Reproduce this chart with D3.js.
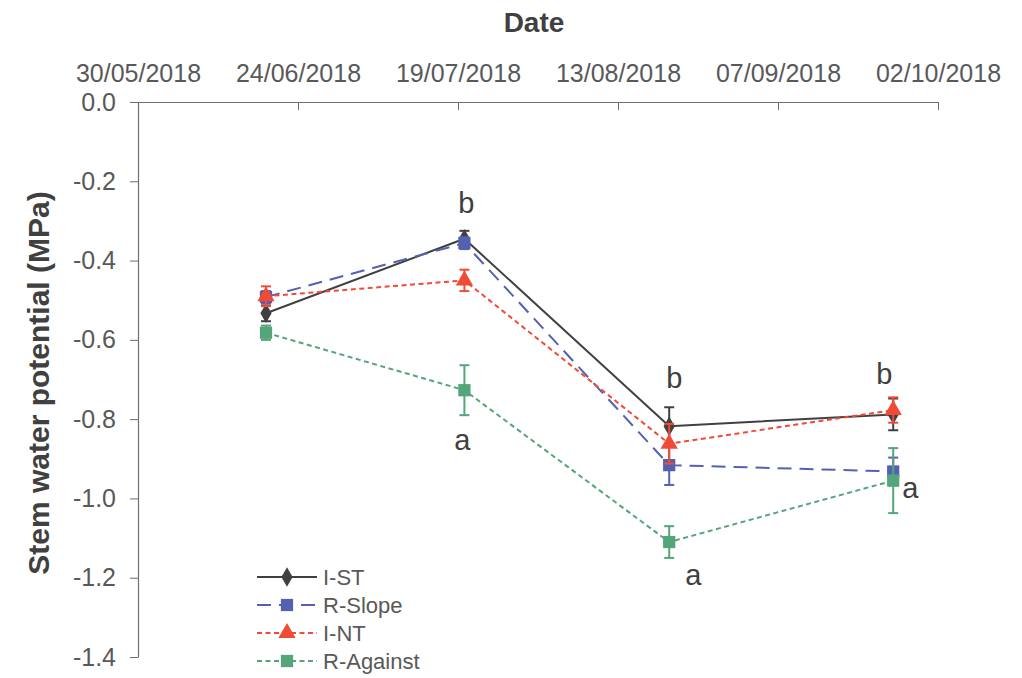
<!DOCTYPE html>
<html>
<head>
<meta charset="utf-8">
<script src="https://cdn.jsdelivr.net/npm/d3@7"></script>
<style>
  html, body { margin: 0; padding: 0; background: #ffffff; }
  svg { display: block; font-family: "Liberation Sans", Arial, sans-serif; }
</style>
</head>
<body>
<svg id="chart" width="1022" height="678"></svg>
<script>
// ---- data ----
const dates = ["19/06/2018", "20/07/2018", "21/08/2018", "25/09/2018"];
const seriesNames = ["I-ST", "R-Slope", "I-NT", "R-Against"];
const valuesIST = [-0.533, -0.345, -0.818, -0.788];
const valuesRSlope = [-0.492, -0.356, -0.916, -0.932];
const valuesINT = [-0.490, -0.450, -0.862, -0.777];
const valuesRAgainst = [-0.582, -0.727, -1.110, -0.955];
const errIST = [0.020, 0.020, 0.048, 0.040];
const errRSlope = [0.015, 0.015, 0.050, 0.035];
const errINT = [0.025, 0.027, 0.050, 0.032];
const errRAgainst = [0.018, 0.063, 0.040, 0.082];
const xTickLabels = ["30/05/2018", "24/06/2018", "19/07/2018", "13/08/2018", "07/09/2018", "02/10/2018"];
const yTickValues = [0.0, -0.2, -0.4, -0.6, -0.8, -1.0, -1.2, -1.4];
const letterDates = ["20/07/2018", "20/07/2018", "21/08/2018", "21/08/2018", "25/09/2018", "25/09/2018"];
const letterValues = [-0.255, -0.853, -0.696, -1.193, -0.686, -0.974];
const letterTexts = ["b", "a", "b", "a", "b", "a"];

// ---- setup ----
const parse = d3.timeParse("%d/%m/%Y");
const svg = d3.select("#chart");
const pLeft = 138, pRight = 938, pTop = 102, pBottom = 657;

const x = d3.scaleTime()
  .domain([parse(xTickLabels[0]), parse(xTickLabels[xTickLabels.length - 1])])
  .range([pLeft, pRight]);
const y = d3.scaleLinear().domain([0, -1.4]).range([pTop, pBottom]);

const axisColor = "#6e6e6e";
const textColor = "#595959";

// top x axis
const xAxis = d3.axisTop(x)
  .tickValues(xTickLabels.map(parse))
  .tickFormat(d3.timeFormat("%d/%m/%Y"))
  .tickSizeInner(-8).tickSizeOuter(0).tickPadding(20);
const gx = svg.append("g").attr("transform", `translate(0,${pTop})`).call(xAxis);
gx.select(".domain").attr("stroke", axisColor).attr("stroke-width", 1.2);
gx.selectAll(".tick line").attr("stroke", axisColor).attr("stroke-width", 1);
gx.selectAll(".tick text").attr("font-size", 25).attr("fill", textColor)
  .attr("font-family", "Liberation Sans, Arial, sans-serif");

// left y axis
const yAxis = d3.axisLeft(y)
  .tickValues(yTickValues)
  .tickFormat(d3.format(".1f"))
  .tickSizeInner(8).tickSizeOuter(0).tickPadding(14);
const gy = svg.append("g").attr("transform", `translate(${pLeft},0)`).call(yAxis);
gy.select(".domain").attr("stroke", axisColor).attr("stroke-width", 1.2);
gy.selectAll(".tick line").attr("stroke", axisColor).attr("stroke-width", 1);
gy.selectAll(".tick text").attr("font-size", 25).attr("fill", textColor)
  .attr("font-family", "Liberation Sans, Arial, sans-serif")
  .text(d => d3.format(".1f")(d).replace("−", "-"));

// titles
svg.append("text").attr("x", (pLeft + pRight) / 2 - 4).attr("y", 32)
  .attr("text-anchor", "middle").attr("font-size", 28).attr("font-weight", "bold")
  .attr("fill", "#404040").text("Date");
svg.append("text").attr("transform", `translate(49,383) rotate(-90)`)
  .attr("text-anchor", "middle").attr("font-size", 30).attr("font-weight", "bold")
  .attr("fill", "#404040").text("Stem water potential (MPa)");

// series definitions
const series = [
  { name: seriesNames[0], values: valuesIST, err: errIST, color: "#404040", dash: null, marker: "diamond", size: 110 },
  { name: seriesNames[1], values: valuesRSlope, err: errRSlope, color: "#5461B2", dash: "14,8", marker: "square", size: 150 },
  { name: seriesNames[2], values: valuesINT, err: errINT, color: "#F04B37", dash: "5,3.5", marker: "triangle", size: 130 },
  { name: seriesNames[3], values: valuesRAgainst, err: errRAgainst, color: "#55A57A", dash: "5,3.5", marker: "square", size: 150 }
];
const symbolType = { diamond: d3.symbolDiamond, square: d3.symbolSquare, triangle: d3.symbolTriangle };

const line = d3.line().x(d => x(d.date)).y(d => y(d.v));

series.forEach(s => {
  const pts = dates.map((dt, i) => ({ date: parse(dt), v: s.values[i], e: s.err[i] }));
  const g = svg.append("g");
  const eb = g.selectAll(".eb").data(pts).enter().append("g");
  eb.append("line").attr("x1", d => x(d.date)).attr("x2", d => x(d.date))
    .attr("y1", d => y(d.v + d.e)).attr("y2", d => y(d.v - d.e))
    .attr("stroke", s.color).attr("stroke-width", 2);
  [1, -1].forEach(sg => {
    eb.append("line").attr("x1", d => x(d.date) - 5).attr("x2", d => x(d.date) + 5)
      .attr("y1", d => y(d.v + sg * d.e)).attr("y2", d => y(d.v + sg * d.e))
      .attr("stroke", s.color).attr("stroke-width", 2);
  });
  g.append("path").datum(pts).attr("d", line).attr("fill", "none")
    .attr("stroke", s.color).attr("stroke-width", 2)
    .attr("stroke-dasharray", s.dash);
  g.selectAll(".m").data(pts).enter().append("path")
    .attr("d", d3.symbol().type(symbolType[s.marker]).size(s.size))
    .attr("transform", d => `translate(${x(d.date)},${y(d.v)})`)
    .attr("fill", s.color);
});

// significance letters
const letterOffsets = [2, -2, 5, 24, -9, 17];
letterDates.forEach((dt, i) => {
  svg.append("text").attr("x", x(parse(dt)) + letterOffsets[i]).attr("y", y(letterValues[i]) + 10)
    .attr("text-anchor", "middle").attr("font-size", 29).attr("fill", "#404040")
    .text(letterTexts[i]);
});

// legend
const legend = svg.append("g").attr("transform", "translate(257,577)");
series.forEach((s, i) => {
  const row = legend.append("g").attr("transform", `translate(0,${i * 28})`);
  row.append("line").attr("x1", 0).attr("x2", 60).attr("y1", 0).attr("y2", 0)
    .attr("stroke", s.color).attr("stroke-width", 2).attr("stroke-dasharray", s.dash);
  row.append("path").attr("d", d3.symbol().type(symbolType[s.marker]).size(s.size))
    .attr("transform", "translate(30,0)").attr("fill", s.color);
  row.append("text").attr("x", 66).attr("y", 8).attr("font-size", 22)
    .attr("fill", textColor).text(s.name);
});
</script>
</body>
</html>
